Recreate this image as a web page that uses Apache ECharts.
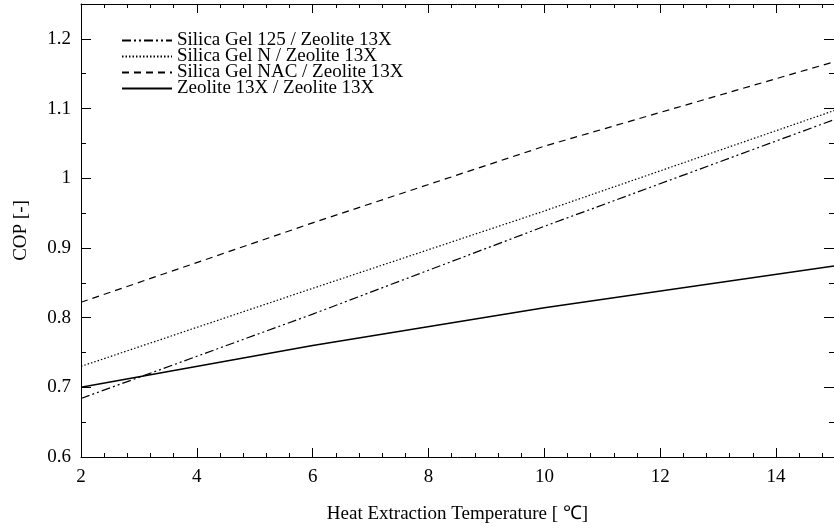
<!DOCTYPE html>
<html>
<head>
<meta charset="utf-8">
<script src="https://cdn.jsdelivr.net/npm/echarts@6/dist/echarts.min.js"></script>
<style>html,body{margin:0;padding:0;background:#fff}#c{width:834px;height:529px}</style>
</head>
<body>
<div id="c"></div>
<script>
const temps = [2, 6, 10, 15];
const sg125 = [0.684, 0.805, 0.931, 1.084];
const sgN = [0.730, 0.842, 0.953, 1.097];
const sgNAC = [0.822, 0.936, 1.046, 1.167];
const zeo = [0.700, 0.760, 0.814, 0.874];
const names = ['Silica Gel 125 / Zeolite 13X', 'Silica Gel N / Zeolite 13X', 'Silica Gel NAC / Zeolite 13X', 'Zeolite 13X / Zeolite 13X'];

const FONT = '"Liberation Serif", "Times New Roman", serif';
const pairs = arr => temps.map((t, i) => [t, arr[i]]);

const chart = echarts.init(document.getElementById('c'), null, {renderer: 'canvas'});
const axLine = {show: true, lineStyle: {color: '#000', width: 1}};
const xMin = 2, xMax = 15, yMin = 0.6, yMax = 1.25;

function xAx(pos, major, withLabel) {
  return {
    type: 'value', position: pos, min: xMin, max: xMax,
    interval: major ? 2 : 0.4,
    axisLine: major ? axLine : {show: false},
    axisTick: {show: true, inside: true, length: major ? 9 : 4, lineStyle: {color: '#000'}},
    axisLabel: {show: withLabel, color: '#000', fontFamily: FONT, fontSize: 19, margin: 11,
      showMaxLabel: false},
    splitLine: {show: false},
    name: withLabel ? 'Heat Extraction Temperature [ ℃]' : '',
    nameLocation: 'middle', nameGap: 48,
    nameTextStyle: {color: '#000', fontFamily: FONT, fontSize: 19}
  };
}
function yAx(pos, major, withLabel) {
  return {
    type: 'value', position: pos, min: yMin, max: yMax,
    interval: major ? 0.1 : 0.05,
    axisLine: major ? axLine : {show: false},
    axisTick: {show: true, inside: true, length: major ? 10 : 5, lineStyle: {color: '#000'}},
    axisLabel: {show: withLabel, color: '#000', fontFamily: FONT, fontSize: 19, margin: 10,
      showMaxLabel: false, formatter: v => String(Math.round(v * 10) / 10)},
    splitLine: {show: false},
    name: withLabel ? 'COP [-]' : '',
    nameLocation: 'middle', nameGap: 50,
    nameTextStyle: {color: '#000', fontFamily: FONT, fontSize: 19}
  };
}

const lineTypes = [[9, 3, 2, 3, 2, 3], [1.5, 2], [7, 5], 'solid'];
const widths = [1.2, 1.2, 1.2, 1.5];
const datasets = [sg125, sgN, sgNAC, zeo];

chart.setOption({
  animation: false,
  backgroundColor: '#fff',
  grid: {left: 81, top: 4, width: 759, height: 457, containLabel: false},
  legend: {
    orient: 'vertical', left: 116, top: 26,
    itemWidth: 50, itemHeight: 14, itemGap: -3,
    itemStyle: {opacity: 0},
    textStyle: {color: '#000', fontFamily: FONT, fontSize: 19},
    data: names
  },
  xAxis: [xAx('bottom', true, true), xAx('bottom', false, false), xAx('top', true, false), xAx('top', false, false)],
  yAxis: [yAx('left', true, true), yAx('left', false, false), yAx('right', true, false), yAx('right', false, false)],
  series: datasets.map((d, i) => ({
    name: names[i], type: 'line', data: pairs(d), symbol: 'none',
    xAxisIndex: 0, yAxisIndex: 0,
    lineStyle: {color: '#000', width: widths[i], type: lineTypes[i]},
    itemStyle: {color: '#000'}
  }))
});
</script>
</body>
</html>
